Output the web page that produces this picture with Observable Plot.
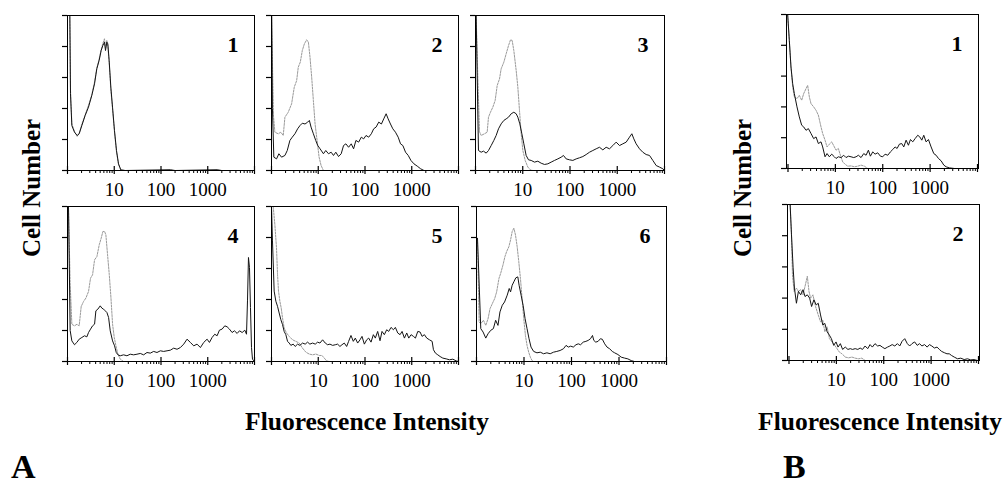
<!DOCTYPE html>
<html><head><meta charset="utf-8">
<script src="https://cdn.jsdelivr.net/npm/d3@7"></script>
<script src="https://cdn.jsdelivr.net/npm/@observablehq/plot@0.6"></script>
<style>
html,body{margin:0;padding:0;background:#fff;}
#fig{position:relative;width:1008px;height:498px;overflow:hidden;background:#fff;font-family:"Liberation Serif","Times New Roman",serif;color:#000;}
.p{position:absolute;}
.lbl{position:absolute;font-weight:bold;white-space:nowrap;line-height:1;}
</style></head><body><div id="fig"></div>
<script>
// ---- tick values / labels ----
const countTicks = [0, 20, 40, 60, 80, 100];
const majorTicks = [1, 10, 100, 1000, 10000];
const minorTicks = [2,3,4,5,6,7,8,9,20,30,40,50,60,70,80,90,200,300,400,500,600,700,800,900,2000,3000,4000,5000,6000,7000,8000,9000];
const fiTickLabels = [10, 100, 1000];
const panelLabelsA = ["1", "2", "3", "4", "5", "6"];
const panelLabelsB = ["1", "2"];

// ---- series: [log10 fluorescence intensity, relative cell number] ----
const a1Control = [[0.021,100],[0.05,100],[0.064,52],[0.093,30],[0.15,25],[0.207,22],[0.25,24],[0.307,30],[0.378,36],[0.449,42],[0.52,49],[0.578,57],[0.627,66],[0.677,72],[0.72,78],[0.756,82],[0.791,85],[0.813,79],[0.841,84],[0.863,80],[0.891,70],[0.927,52],[0.963,40],[1.005,25],[1.048,12],[1.091,4],[1.141,0.3],[1.234,0],[4,0]];
const a1Sample = [[0.021,100],[0.05,100],[0.064,49.5],[0.093,29],[0.15,24.7],[0.207,22.6],[0.25,23.7],[0.307,29],[0.378,35.5],[0.449,40.9],[0.52,48.4],[0.578,55.9],[0.627,65.6],[0.677,71],[0.72,77.4],[0.756,80.6],[0.791,82.8],[0.813,77.4],[0.841,82.8],[0.863,81.7],[0.891,71],[0.927,53.8],[0.963,40.9],[1.005,25.8],[1.048,12.9],[1.091,4.3],[1.141,0.4],[1.234,0],[2.2,0.5],[2.3,0],[3.2,0.5],[3.3,0],[4,0]];

const a2Control = [[0,100],[0.02,70],[0.043,35],[0.072,24.7],[0.143,23.7],[0.2,24.7],[0.251,22.6],[0.287,34.4],[0.358,37.6],[0.43,43],[0.487,53.8],[0.538,58],[0.573,66.7],[0.616,69.9],[0.659,77.4],[0.703,81.7],[0.753,84.3],[0.789,82.8],[0.824,73],[0.86,60],[0.896,45],[0.932,30],[0.975,19.4],[1.018,8.6],[1.061,3.2],[1.111,0],[4,0]];
const a2Sample = [[0.005,100],[0.02,40],[0.05,8.6],[0.108,7.5],[0.158,10.8],[0.215,8.6],[0.287,9.7],[0.337,12.9],[0.394,19.4],[0.444,21.5],[0.502,23.7],[0.559,26.9],[0.609,29],[0.659,30.5],[0.717,30],[0.774,31.2],[0.81,32.3],[0.846,28],[0.896,23.7],[0.946,19.4],[0.989,16.1],[1.039,14],[1.111,10.8],[1.161,12.9],[1.219,10.8],[1.276,11.8],[1.326,9.7],[1.376,11.8],[1.434,9],[1.491,10.8],[1.541,16.1],[1.591,17.2],[1.649,15],[1.706,17.2],[1.756,14],[1.806,19.4],[1.864,18.3],[1.921,21.5],[1.971,20.4],[2.022,22.6],[2.079,21.5],[2.136,23.7],[2.186,26.9],[2.237,28],[2.294,31.2],[2.351,30],[2.401,33.3],[2.452,36.6],[2.495,33.3],[2.545,30],[2.595,26.9],[2.652,24.7],[2.71,21.5],[2.76,17.2],[2.81,16.1],[2.867,11.8],[2.925,9.7],[2.982,6.5],[3.047,4.3],[3.118,2.8],[3.19,1.1],[3.262,0],[4,0]];

const a3Control = [[0.014,100],[0.049,60],[0.085,25],[0.12,22.6],[0.19,23.7],[0.247,24.7],[0.275,34.4],[0.317,37.6],[0.367,40.9],[0.416,45.2],[0.459,54.8],[0.508,59.1],[0.543,65.6],[0.6,69.9],[0.649,75.3],[0.699,80.6],[0.741,84.3],[0.776,83.9],[0.811,77.4],[0.861,64.5],[0.896,53.8],[0.931,38.7],[0.967,23.7],[1.002,12.9],[1.051,6.5],[1.108,2.2],[1.164,0.4],[1.213,0],[4,0]];
const a3Sample = [[0.014,100],[0.063,12.9],[0.12,11.8],[0.169,12.5],[0.226,11.2],[0.275,12.9],[0.332,16.1],[0.388,19.4],[0.437,22.6],[0.487,26.9],[0.543,30.1],[0.6,32.3],[0.649,33.3],[0.699,34.4],[0.755,36.6],[0.811,37.6],[0.861,36.6],[0.896,34.4],[0.938,30.1],[0.981,23.7],[1.023,17.2],[1.072,9.7],[1.122,6.9],[1.178,6.5],[1.249,5.4],[1.319,6],[1.39,4.7],[1.46,3.9],[1.531,4.3],[1.601,5.4],[1.672,6.5],[1.743,7.5],[1.813,8.6],[1.862,9.7],[1.919,7.5],[1.989,6.9],[2.06,6.5],[2.131,7.5],[2.201,8.2],[2.272,9],[2.342,10.3],[2.413,11.8],[2.483,12.9],[2.554,14],[2.624,15],[2.695,13.3],[2.765,15],[2.836,14],[2.907,16.1],[2.977,18.3],[3.048,16.1],[3.118,17.2],[3.189,18.3],[3.259,21.5],[3.309,23.7],[3.351,20.4],[3.4,17.2],[3.471,14],[3.541,11.8],[3.612,10.3],[3.683,9.7],[3.753,6.5],[3.824,3.2],[3.894,2.2],[3.965,1.1],[4,0]];

const a4Control = [[0.021,100],[0.057,50],[0.093,24],[0.15,23],[0.2,24],[0.25,23],[0.293,35.5],[0.343,38.7],[0.393,40.9],[0.45,45.2],[0.493,53.8],[0.536,55.9],[0.579,65.6],[0.629,67.7],[0.679,75.3],[0.721,79.6],[0.757,83.9],[0.793,83.9],[0.821,81.7],[0.857,68.8],[0.893,56.3],[0.929,41.3],[0.964,24.1],[1.0,15.5],[1.036,10.1],[1.079,4.7],[1.129,1.5],[1.2,0],[4,0]];
const a4Sample = [[0.021,100],[0.057,20],[0.093,13.3],[0.15,10.8],[0.2,12.3],[0.25,14.4],[0.307,15.5],[0.364,16.6],[0.414,15.9],[0.45,18.7],[0.493,20.9],[0.536,23],[0.579,24.1],[0.607,32.7],[0.65,33.8],[0.7,35.9],[0.736,34.4],[0.771,33.8],[0.807,32.7],[0.843,31.6],[0.879,28.4],[0.914,19.8],[0.964,13.3],[1.007,10.1],[1.043,5.8],[1.079,4.3],[1.129,3.7],[1.2,4.3],[1.271,3.7],[1.343,4.7],[1.414,4.3],[1.486,4.7],[1.557,5.2],[1.629,4.3],[1.7,5.8],[1.771,5.4],[1.843,6.5],[1.914,5.8],[1.986,6.9],[2.057,6.5],[2.129,6.9],[2.2,7.3],[2.271,8.6],[2.343,7.9],[2.414,9],[2.486,11.2],[2.557,14.4],[2.629,12.3],[2.7,10.1],[2.771,11.2],[2.843,9],[2.914,12.3],[2.986,14.4],[3.036,12.3],[3.093,15.5],[3.15,17.6],[3.2,16.6],[3.25,20.2],[3.307,20.9],[3.364,23],[3.414,22.4],[3.464,20.9],[3.521,18.7],[3.571,19.8],[3.629,18.1],[3.679,19.8],[3.736,18.7],[3.793,20.2],[3.829,17.6],[3.85,39.1],[3.871,67.1],[3.893,60.6],[3.914,34.8],[3.936,9],[3.957,1.5],[4,0]];

const a5Control = [[0.036,100],[0.071,88.6],[0.107,73.4],[0.129,56.2],[0.15,45.4],[0.179,38.9],[0.207,34.6],[0.236,28.1],[0.271,21.6],[0.321,18.4],[0.379,16.2],[0.45,14],[0.521,13],[0.593,11.9],[0.664,8.6],[0.736,6],[0.807,4.8],[0.879,4.3],[0.95,4.8],[1.021,3.9],[1.079,3.9],[1.129,2.2],[1.179,0.4],[1.236,0],[4,0]];
const a5Sample = [[0,100],[0.021,77.8],[0.057,45.4],[0.093,38.9],[0.129,35.6],[0.164,31.3],[0.2,27],[0.236,23.8],[0.271,19.4],[0.307,17.3],[0.343,13],[0.379,11.9],[0.414,10.4],[0.464,11.2],[0.507,9.7],[0.557,11.2],[0.607,10.4],[0.664,11.9],[0.721,11.2],[0.771,12.5],[0.821,11.2],[0.879,11.9],[0.936,11.2],[0.986,12.5],[1.036,11.9],[1.093,14],[1.15,11.9],[1.2,10.8],[1.25,11.2],[1.307,10.4],[1.364,10.8],[1.414,11.2],[1.464,9.7],[1.507,10.8],[1.557,11.9],[1.607,9.7],[1.65,13],[1.7,16.8],[1.75,13],[1.793,15.1],[1.843,11.9],[1.893,14],[1.936,16.2],[1.986,11.2],[2.036,14],[2.079,15.1],[2.129,12.5],[2.179,17.3],[2.221,15.1],[2.271,19.4],[2.321,13.4],[2.364,19.4],[2.414,17.3],[2.464,20.5],[2.507,19.4],[2.557,22],[2.607,20.5],[2.65,22],[2.7,18.4],[2.75,17.3],[2.793,19.4],[2.843,15.1],[2.893,18.4],[2.936,15.1],[2.986,17.3],[3.036,16.2],[3.079,15.1],[3.129,19.4],[3.179,19],[3.221,16.2],[3.271,17.3],[3.321,15.1],[3.379,14],[3.436,13],[3.464,7.6],[3.507,5.4],[3.557,4.3],[3.607,3.2],[3.664,2.2],[3.736,1.7],[3.807,1.1],[3.879,1.5],[3.95,0.4],[4,0]];

const a6Control = [[0.021,77],[0.056,25.5],[0.09,24.4],[0.146,26.6],[0.195,23.3],[0.243,27.6],[0.285,34.1],[0.334,37.4],[0.383,40.6],[0.424,44.9],[0.473,53.6],[0.508,56.8],[0.557,62.2],[0.598,67.6],[0.633,70.8],[0.682,74.1],[0.717,78.4],[0.751,83.8],[0.786,86],[0.821,81.6],[0.856,74.1],[0.89,64.4],[0.925,53.6],[0.96,40.6],[0.995,27.6],[1.03,16.8],[1.064,10.4],[1.099,6],[1.134,2.8],[1.169,0.6],[1.203,0],[4,0]];
const a6Sample = [[0.021,79.5],[0.09,21.2],[0.139,19],[0.195,15.1],[0.243,17.9],[0.299,20.1],[0.355,21.2],[0.403,26.6],[0.452,23.3],[0.494,32],[0.543,36.3],[0.591,38.4],[0.647,42.8],[0.689,47.1],[0.717,44.9],[0.751,49.2],[0.786,51.4],[0.828,54],[0.87,54.6],[0.897,49.2],[0.939,42.8],[0.981,36.3],[1.023,27.6],[1.064,21.2],[1.106,14.7],[1.148,9.3],[1.203,6.5],[1.273,5.6],[1.343,6],[1.412,5],[1.482,5.6],[1.551,5],[1.621,6],[1.69,6.5],[1.76,7.1],[1.83,8.2],[1.885,10.4],[1.934,9.3],[1.983,9.9],[2.038,9.3],[2.094,10.8],[2.143,11.4],[2.191,10.8],[2.247,12.5],[2.303,13],[2.351,13.6],[2.4,14.7],[2.442,16.8],[2.47,13.6],[2.511,12.5],[2.56,13],[2.609,14.7],[2.65,14.3],[2.699,11.4],[2.748,9.3],[2.803,8.2],[2.859,6.5],[2.908,5.6],[2.977,4.5],[3.047,2.8],[3.117,2.2],[3.186,1.7],[3.256,0.6],[3.325,0],[4,0]];

const b1Control = [[-0.007,100],[0.028,83],[0.063,66],[0.099,53],[0.134,46.4],[0.19,45.4],[0.239,47.5],[0.289,44.3],[0.331,48.6],[0.38,51.8],[0.415,54],[0.451,46.4],[0.486,42.1],[0.542,40],[0.592,37.8],[0.641,34.6],[0.697,27],[0.732,22.7],[0.782,18.4],[0.824,14],[0.873,15.8],[0.923,17.3],[0.979,14],[1.014,11.9],[1.063,13],[1.106,8.6],[1.155,4.3],[1.204,2.8],[1.261,1.5],[1.331,1.7],[1.401,1.1],[1.472,1.5],[1.542,2.2],[1.613,1.5],[1.683,0],[4.1,0]];
const b1Sample = [[-0.007,100],[0.028,83.2],[0.063,65.9],[0.099,55.1],[0.134,48.6],[0.19,40],[0.239,33.5],[0.289,28.1],[0.331,27],[0.38,24.8],[0.43,25.9],[0.486,22.7],[0.542,19.4],[0.592,20.5],[0.641,16.2],[0.697,17.3],[0.732,14],[0.782,7.6],[0.824,9.7],[0.873,7.6],[0.923,9.3],[0.979,7.6],[1.014,6.5],[1.063,7.6],[1.12,7.1],[1.176,8.6],[1.225,7.1],[1.275,8],[1.331,7.6],[1.387,7.1],[1.437,7.6],[1.486,8.6],[1.542,7.1],[1.599,9.7],[1.648,8.6],[1.697,11.9],[1.739,8],[1.789,10.8],[1.838,9.3],[1.894,10.2],[1.951,8],[2.0,7.6],[2.049,9.3],[2.106,8.6],[2.162,10.8],[2.211,12.3],[2.261,14],[2.303,13],[2.352,15.8],[2.401,16.2],[2.444,14],[2.493,18.4],[2.542,15.1],[2.585,18.8],[2.634,17.3],[2.683,19.4],[2.739,21.6],[2.782,20.5],[2.824,18.4],[2.866,21.6],[2.915,17.3],[2.965,18.8],[3.021,14],[3.077,9.7],[3.127,8.6],[3.176,6.5],[3.232,5],[3.289,2.2],[3.338,1.1],[3.408,0.4],[3.514,0],[4.1,0]];

const b2Control = [[0.024,100],[0.052,81],[0.073,55],[0.108,44.3],[0.157,46.4],[0.199,44.3],[0.247,45.4],[0.296,42.1],[0.338,47.5],[0.387,54],[0.422,44.3],[0.456,40],[0.505,42.1],[0.561,34.6],[0.617,29.2],[0.666,24.8],[0.714,25.9],[0.756,18.4],[0.805,21.6],[0.854,14],[0.909,11.9],[0.965,9.7],[1.014,7.6],[1.063,5.4],[1.118,4.3],[1.188,2.2],[1.258,1.7],[1.328,2.2],[1.397,1.5],[1.467,1.1],[1.537,1.5],[1.606,0],[4.1,0]];
const b2Sample = [[0.024,100],[0.052,81],[0.087,59.4],[0.115,46.4],[0.157,36.7],[0.199,44.3],[0.247,42.1],[0.296,45.4],[0.338,41],[0.387,42.1],[0.436,40],[0.477,34.6],[0.526,38.9],[0.575,35.6],[0.617,36.7],[0.666,29.2],[0.714,22.7],[0.756,23.8],[0.805,18.4],[0.854,16.2],[0.895,14],[0.944,9.7],[0.993,11.9],[1.035,8.6],[1.084,10.8],[1.132,7.1],[1.188,8.6],[1.244,7.1],[1.293,7.6],[1.341,7.1],[1.397,7.6],[1.453,7.1],[1.502,8],[1.551,7.1],[1.606,9.3],[1.662,7.6],[1.711,10.2],[1.76,8.6],[1.815,10.8],[1.871,9.3],[1.92,9.7],[1.969,8.6],[2.024,7.6],[2.08,8.6],[2.129,9.3],[2.178,10.2],[2.233,9.3],[2.289,10.8],[2.338,9.3],[2.387,12.3],[2.443,14],[2.498,10.8],[2.547,9.3],[2.596,10.8],[2.652,11.9],[2.707,9.7],[2.756,10.8],[2.805,9.3],[2.861,10.2],[2.916,8.6],[2.965,10.2],[3.014,9.3],[3.07,8],[3.125,8.6],[3.174,7.1],[3.223,5.8],[3.279,5],[3.334,4.3],[3.383,4.3],[3.432,3.2],[3.488,2.2],[3.557,1.1],[3.627,1.5],[3.697,0.6],[3.767,1.1],[3.836,0.4],[3.906,0.6],[3.976,0],[4.1,0]];

const domainA = [1, 10000];
const domainB = [0.93, 10500];

const fig = document.getElementById("fig");
const serif = '"Liberation Serif","Times New Roman",serif';

function toRows(pts) { return pts.map(([lg, c]) => ({fi: Math.pow(10, lg), n: c})); }

function panel({x, y, w, h, domain, control, sample, label}) {
  const ml = 12, mr = 8, mt = 4, mb = 40;
  const inDom = t => t >= domain[0] && t <= domain[1];
  const chart = Plot.plot({
    width: w + ml + mr, height: h + mt + mb,
    marginLeft: ml, marginRight: mr, marginTop: mt, marginBottom: mb,
    x: {type: "log", domain, label: null},
    y: {domain: [0, 100], label: null},
    style: {fontFamily: serif, fontSize: "19px", background: "transparent", color: "#000", overflow: "visible"},
    marks: [
      Plot.line(toRows(control), {x: "fi", y: "n", stroke: "#9a9a9a", strokeWidth: 1, strokeDasharray: "2,1.2", clip: true}),
      Plot.line(toRows(sample), {x: "fi", y: "n", stroke: "#141414", strokeWidth: 1, clip: true}),
      Plot.frame({stroke: "#000", strokeWidth: 1}),
      Plot.axisY({ticks: countTicks, tickSize: 5, strokeWidth: 1.2, tickFormat: () => ""}),
      Plot.axisX({ticks: minorTicks.filter(inDom), tickSize: 3, tickFormat: () => ""}),
      Plot.axisX({ticks: majorTicks.filter(inDom), tickSize: 8, dy: -4, strokeWidth: 1.2, tickFormat: () => ""}),
      Plot.axisX({ticks: fiTickLabels, tickSize: 0, tickPadding: 12, tickFormat: d => String(d), fontSize: 19}),
      Plot.text([label], {text: d => d, frameAnchor: "top-right", dx: -16, dy: 21, fontWeight: "bold", fontSize: 22, fill: "#000"})
    ]
  });
  const div = document.createElement("div");
  div.className = "p";
  div.style.left = (x - ml) + "px";
  div.style.top = (y - mt) + "px";
  div.appendChild(chart);
  fig.appendChild(div);
}

const layoutA = [
  {x: 67, y: 15, w: 187, h: 155}, {x: 271, y: 15, w: 187, h: 155}, {x: 475, y: 15, w: 189, h: 155},
  {x: 67, y: 206, w: 187, h: 155}, {x: 271, y: 206, w: 187, h: 155}, {x: 476, y: 206, w: 190, h: 155}
];
const seriesA = [[a1Control, a1Sample], [a2Control, a2Sample], [a3Control, a3Sample], [a4Control, a4Sample], [a5Control, a5Sample], [a6Control, a6Sample]];
layoutA.forEach((L, i) => panel({...L, domain: domainA, control: seriesA[i][0], sample: seriesA[i][1], label: panelLabelsA[i]}));

const layoutB = [{x: 786, y: 14, w: 192, h: 154}, {x: 787, y: 204, w: 192, h: 156}];
const seriesB = [[b1Control, b1Sample], [b2Control, b2Sample]];
layoutB.forEach((L, i) => panel({...L, domain: domainB, control: seriesB[i][0], sample: seriesB[i][1], label: panelLabelsB[i]}));

function label(text, css) {
  const d = document.createElement("div");
  d.className = "lbl";
  d.textContent = text;
  Object.assign(d.style, css);
  fig.appendChild(d);
}
label("Cell Number", {left: "31px", top: "188px", fontSize: "25px", transform: "translate(-50%,-50%) rotate(-90deg)"});
label("Cell Number", {left: "742px", top: "188px", fontSize: "25px", transform: "translate(-50%,-50%) rotate(-90deg)"});
label("Fluorescence Intensity", {left: "367px", top: "409px", fontSize: "25.5px", transform: "translateX(-50%)"});
label("Fluorescence Intensity", {left: "880px", top: "409px", fontSize: "25.5px", transform: "translateX(-50%)"});
label("A", {left: "11px", top: "450px", fontSize: "34px"});
label("B", {left: "783px", top: "450px", fontSize: "34px"});
</script></body></html>
